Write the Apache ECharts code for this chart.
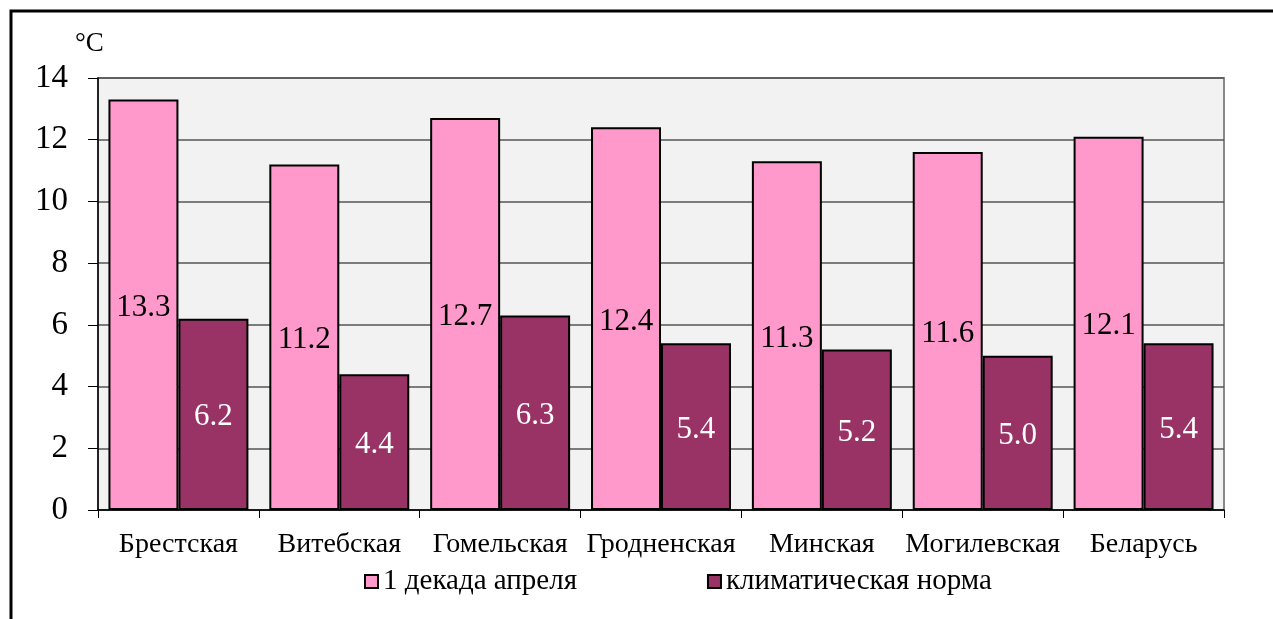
<!DOCTYPE html>
<html>
<head>
<meta charset="utf-8">
<script src="https://cdn.jsdelivr.net/npm/echarts@6/dist/echarts.min.js"></script>
<style>
html,body{margin:0;padding:0;background:#fff;}
#chart{width:1273px;height:619px;}
</style>
</head>
<body>
<div id="chart"></div>
<script>
const categories = ['Брестская','Витебская','Гомельская','Гродненская','Минская','Могилевская','Беларусь'];
const seriesNames = ['1 декада апреля','климатическая норма'];
const aprilValues = [13.3, 11.2, 12.7, 12.4, 11.3, 11.6, 12.1];
const normValues = [6.2, 4.4, 6.3, 5.4, 5.2, 5.0, 5.4];
const yTicks = [0, 2, 4, 6, 8, 10, 12, 14];
const unitLabel = '°C';

const FONT = 'Liberation Serif';
const chart = echarts.init(document.getElementById('chart'), null, {renderer:'canvas'});
chart.setOption({
  backgroundColor:'#fff',
  animation:false,
  textStyle:{fontFamily:FONT},
  graphic:[
    {type:'rect', shape:{x:11, y:11, width:1300, height:700}, style:{fill:'none', stroke:'#000', lineWidth:3}, z:100},
    {type:'text', left:75, top:30, style:{text:unitLabel, fontFamily:FONT, fontSize:27, fill:'#000'}}
  ],
  grid:{left:98, right:49, top:78, bottom:109, show:true, backgroundColor:'#f2f2f2', borderColor:'#888', borderWidth:2},
  legend:{
    data:seriesNames, left:359, top:562, icon:'rect', itemWidth:13, itemHeight:13, itemGap:130,
    textStyle:{fontFamily:FONT, fontSize:29, color:'#000'},
    itemStyle:{borderColor:'#000', borderWidth:2}
  },
  xAxis:{
    type:'category', data:categories,
    axisLine:{lineStyle:{color:'#000', width:1.5}},
    axisTick:{show:true, length:8, lineStyle:{color:'#000'}},
    axisLabel:{fontFamily:FONT, fontSize:28, color:'#000', margin:21, interval:0}
  },
  yAxis:{
    type:'value', min:yTicks[0], max:yTicks[yTicks.length-1], interval:2,
    axisLine:{show:true, lineStyle:{color:'#000', width:1.5}},
    axisTick:{show:true, length:10, lineStyle:{color:'#000'}},
    axisLabel:{fontFamily:FONT, fontSize:33, color:'#000', margin:30},
    splitLine:{lineStyle:{color:'#555', width:1.5}}
  },
  series:[
    {name:seriesNames[0], type:'bar', data:aprilValues, barGap:'0%', barCategoryGap:'13%',
     itemStyle:{color:'#ff99cc', borderColor:'#000', borderWidth:2},
     label:{show:true, position:'inside', offset:[0,3], formatter:p=>p.value.toFixed(1), fontFamily:FONT, fontSize:31, color:'#000'}},
    {name:seriesNames[1], type:'bar', data:normValues,
     itemStyle:{color:'#993366', borderColor:'#000', borderWidth:2},
     label:{show:true, position:'inside', offset:[0,3], formatter:p=>p.value.toFixed(1), fontFamily:FONT, fontSize:31, color:'#fff'}}
  ]
});
</script>
</body>
</html>
